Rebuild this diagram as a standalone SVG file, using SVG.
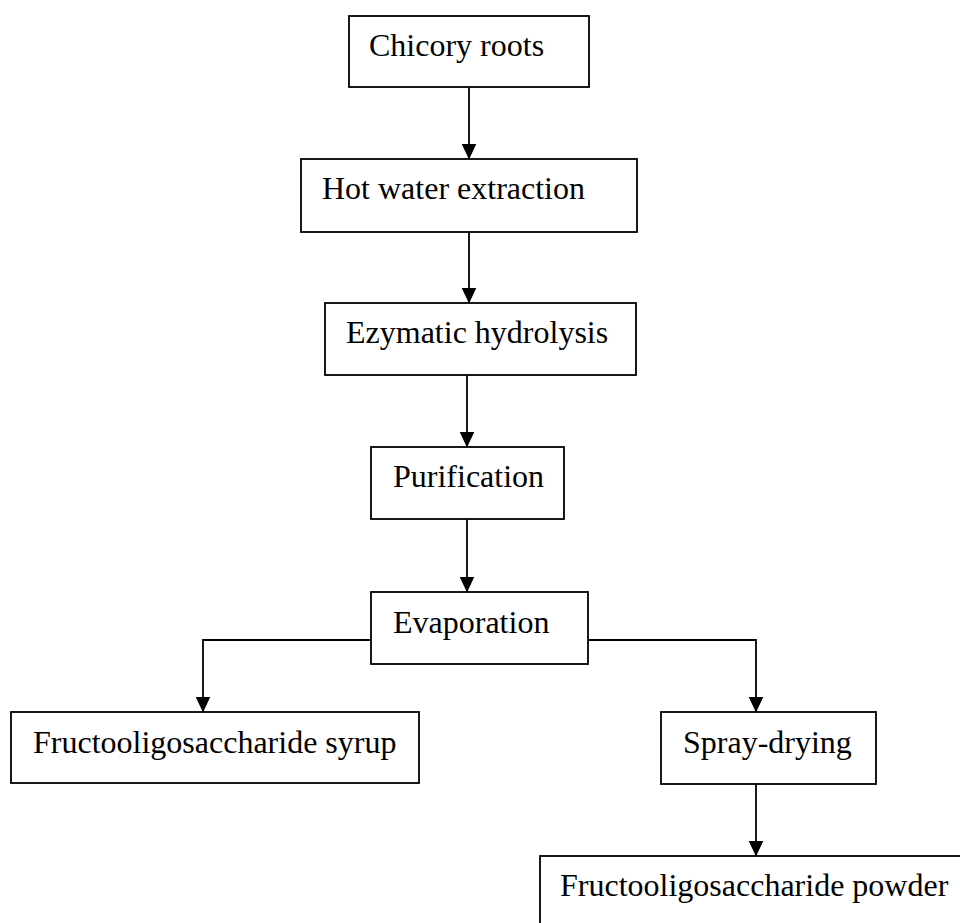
<svg xmlns="http://www.w3.org/2000/svg" width="960" height="923" viewBox="0 0 960 923">
<style>
.box rect{fill:#fff;stroke:#000;stroke-width:1.8}
.box text{font-family:"Liberation Serif","Times New Roman",serif;font-size:32px;fill:#000}
.conn path{fill:none;stroke:#000;stroke-width:1.8}
</style>
<defs>
<marker id="ah" markerUnits="userSpaceOnUse" markerWidth="16" markerHeight="16" viewBox="0 0 16 16" refX="15.5" refY="8" orient="auto">
<path d="M0,0.5 L16,8 L0,15.5 Z" fill="#000"/>
</marker>
</defs>
<rect width="960" height="923" fill="#fff"/>
<g class="conn">
<path d="M469,87 V159" marker-end="url(#ah)"/>
<path d="M469,232 V303" marker-end="url(#ah)"/>
<path d="M467,375 V447" marker-end="url(#ah)"/>
<path d="M467,519 V592" marker-end="url(#ah)"/>
<path d="M371,640 H203 V712" marker-end="url(#ah)"/>
<path d="M588,640 H756 V712" marker-end="url(#ah)"/>
<path d="M756,784 V856" marker-end="url(#ah)"/>
</g>
<g id="chicory" class="box"><rect x="349" y="16" width="240" height="71"/><text x="369" y="56">Chicory roots</text></g>
<g id="hotwater" class="box"><rect x="301" y="159" width="336" height="73"/><text x="322" y="199">Hot water extraction</text></g>
<g id="hydrolysis" class="box"><rect x="325" y="303" width="311" height="72"/><text x="346" y="343">Ezymatic hydrolysis</text></g>
<g id="purification" class="box"><rect x="371" y="447" width="193" height="72"/><text x="393" y="487">Purification</text></g>
<g id="evaporation" class="box"><rect x="371" y="592" width="217" height="72"/><text x="393" y="633">Evaporation</text></g>
<g id="syrup" class="box"><rect x="11" y="712" width="408" height="71"/><text x="33" y="753">Fructooligosaccharide syrup</text></g>
<g id="spray" class="box"><rect x="661" y="712" width="215" height="72"/><text x="683" y="753">Spray-drying</text></g>
<g id="powder" class="box"><rect x="540" y="856" width="440" height="90"/><text x="560" y="896">Fructooligosaccharide powder</text></g>
</svg>
